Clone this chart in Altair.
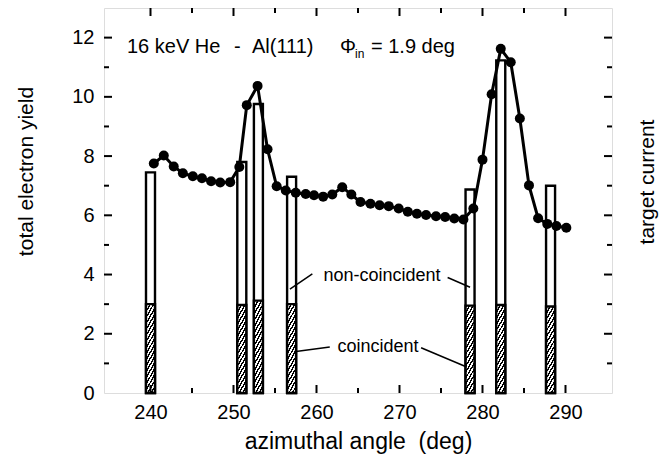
import altair as alt
import pandas as pd

# ---------------- data ----------------
angle = [240.4, 241.6, 242.8, 243.9, 245.1, 246.2, 247.3, 248.4, 249.6, 250.7,
         251.6, 252.9, 254.1, 255.2, 256.3, 257.5, 258.7, 259.7, 260.8, 261.9,
         263.1, 264.2, 265.3, 266.5, 267.6, 268.7, 269.9, 271.0, 272.1, 273.2,
         274.4, 275.5, 276.6, 277.7, 278.9, 280.0, 281.1, 282.2, 283.4, 284.5,
         285.6, 286.7, 287.8, 288.9, 290.1]
total_yield = [7.75, 8.02, 7.65, 7.42, 7.32, 7.25, 7.15, 7.11, 7.12, 7.63,
               9.72, 10.37, 8.23, 6.98, 6.84, 6.76, 6.72, 6.68, 6.63, 6.70,
               6.95, 6.70, 6.45, 6.39, 6.34, 6.31, 6.23, 6.12, 6.05, 6.01,
               5.97, 5.94, 5.89, 5.86, 6.23, 7.88, 10.09, 11.62, 11.17, 9.27,
               7.01, 5.90, 5.71, 5.64, 5.58]

bar_angle = [240.0, 251.0, 253.0, 257.0, 278.5, 282.2, 288.2]
bar_total = [7.45, 7.80, 9.76, 7.30, 6.87, 11.23, 7.00]
bar_coinc = [3.00, 2.97, 3.12, 3.00, 2.95, 2.97, 2.92]

x_major = [240, 250, 260, 270, 280, 290]
x_minor = [245, 255, 265, 275, 285]
y_major = [2, 4, 6, 8, 10, 12]
y_minor = [1, 3, 5, 7, 9, 11]

label_text = ["non-coincident", "coincident"]
label_x = [267.9, 267.4]
label_y = [3.96, 1.54]

leader_x1 = [259.5, 275.8, 261.6, 272.6]
leader_y1 = [4.02, 3.90, 1.55, 1.53]
leader_x2 = [256.8, 278.5, 257.3, 278.1]
leader_y2 = [3.51, 3.57, 1.39, 0.88]

# ---------------- tables ----------------
curve = pd.DataFrame({"a": angle, "v": total_yield})
bars = pd.DataFrame({"a": bar_angle, "total": bar_total, "coinc": bar_coinc})
xmaj = pd.DataFrame({"a": x_major})
xmin = pd.DataFrame({"a": x_minor})
ymaj = pd.DataFrame({"v": y_major})
ymin = pd.DataFrame({"v": y_minor})
labels = pd.DataFrame({"a": label_x, "v": label_y, "t": label_text})
leaders = pd.DataFrame({"a": leader_x1, "v": leader_y1, "a2": leader_x2, "v2": leader_y2})

FONT = "Liberation Sans"
W, H = 508, 385

xs = alt.Scale(domain=[235, 295], nice=False, zero=False)
ys = alt.Scale(domain=[0, 13], nice=False, zero=False)

# hatch pattern built as a striped gradient
n = 17
p = 1.0 / n
stops = []
for k in range(n):
    stops += [
        alt.GradientStop(color="black", offset=k * p),
        alt.GradientStop(color="black", offset=k * p + 0.45 * p),
        alt.GradientStop(color="white", offset=k * p + 0.45 * p),
        alt.GradientStop(color="white", offset=min(1.0, (k + 1) * p)),
    ]
hatch = alt.LinearGradient(gradient="linear", stops=stops, x1=0, y1=0, x2=0.2, y2=1.12)

xaxis = alt.Axis(values=x_major, title="azimuthal angle\u00a0\u00a0(deg)", grid=False,
                 ticks=False, domain=False, labelFontSize=20, labelPadding=9,
                 titleFontSize=23, titlePadding=8, titleFontWeight="normal",
                 labelFont=FONT, titleFont=FONT, labelColor="black", titleColor="black")
yaxis = alt.Axis(values=[0] + y_major, title="total electron yield", grid=False,
                 ticks=False, domain=False, labelFontSize=20, labelPadding=10,
                 titleFontSize=21, titleFontWeight="normal", titleX=-78, titleY=163,
                 titleAngle=-90, titleAlign="center", titleBaseline="middle",
                 labelFont=FONT, titleFont=FONT, labelColor="black", titleColor="black")

bars_total = alt.Chart(bars).mark_bar(size=9, fill="white", stroke="black", strokeWidth=2.4).encode(
    x=alt.X("a:Q", scale=xs, axis=xaxis),
    y=alt.Y("total:Q", scale=ys, axis=yaxis),
    y2=alt.datum(0),
)
bars_coinc = alt.Chart(bars).mark_bar(size=9, fill=hatch, stroke="black", strokeWidth=2.4).encode(
    x=alt.X("a:Q", scale=xs),
    y=alt.Y("coinc:Q", scale=ys),
    y2=alt.datum(0),
)
line = alt.Chart(curve).mark_line(color="black", strokeWidth=3).encode(
    x=alt.X("a:Q", scale=xs), y=alt.Y("v:Q", scale=ys))
pts = alt.Chart(curve).mark_circle(size=100, color="black", opacity=1).encode(
    x=alt.X("a:Q", scale=xs), y=alt.Y("v:Q", scale=ys))

def xticks(df, L):
    bot = alt.Chart(df).mark_rule(color="black", strokeWidth=2).encode(
        x=alt.X("a:Q", scale=xs), y=alt.value(H), y2=alt.value(H - L))
    top = alt.Chart(df).mark_rule(color="black", strokeWidth=2).encode(
        x=alt.X("a:Q", scale=xs), y=alt.value(0), y2=alt.value(L))
    return [bot, top]

def yticks(df, L):
    lft = alt.Chart(df).mark_rule(color="black", strokeWidth=2).encode(
        y=alt.Y("v:Q", scale=ys), x=alt.value(0), x2=alt.value(L))
    rgt = alt.Chart(df).mark_rule(color="black", strokeWidth=2).encode(
        y=alt.Y("v:Q", scale=ys), x=alt.value(W), x2=alt.value(W - L))
    return [lft, rgt]

tick_layers = xticks(xmaj, 8) + xticks(xmin, 5) + yticks(ymaj, 8) + yticks(ymin, 5)

lead = alt.Chart(leaders).mark_rule(color="black", strokeWidth=1.5).encode(
    x=alt.X("a:Q", scale=xs), y=alt.Y("v:Q", scale=ys), x2="a2:Q", y2="v2:Q")
lab = alt.Chart(labels).mark_text(font=FONT, fontSize=18, color="black").encode(
    x=alt.X("a:Q", scale=xs), y=alt.Y("v:Q", scale=ys), text="t:N")

def ptext(s, x, y, size=20, align="left"):
    return alt.Chart(pd.DataFrame({"s": [s]})).mark_text(
        font=FONT, fontSize=size, color="black", align=align, baseline="alphabetic"
    ).encode(x=alt.value(x), y=alt.value(y), text="s:N")

title_layers = [
    ptext("16 keV He", 23, 45),
    ptext("-", 130, 45),
    ptext("Al(111)", 148, 45),
    ptext("\u03a6", 236, 45),
    ptext("in", 251, 50, size=12),
    ptext("= 1.9 deg", 267, 45),
]

right_title = alt.Chart(pd.DataFrame({"s": ["target current"]})).mark_text(
    font=FONT, fontSize=21, color="black", angle=270, align="center", baseline="middle"
).encode(x=alt.value(544), y=alt.value(174), text="s:N")

chart = alt.layer(
    bars_total, bars_coinc, line, pts, *tick_layers, lead, lab, *title_layers, right_title
).properties(
    width=W, height=H,
    autosize=alt.AutoSizeParams(type="none"),
    padding={"left": 104, "top": 8, "right": 50, "bottom": 71},
).configure_view(stroke="black", strokeWidth=2).configure(background="white")

chart.save("out.html", embed_options={"renderer": "svg", "actions": False})
